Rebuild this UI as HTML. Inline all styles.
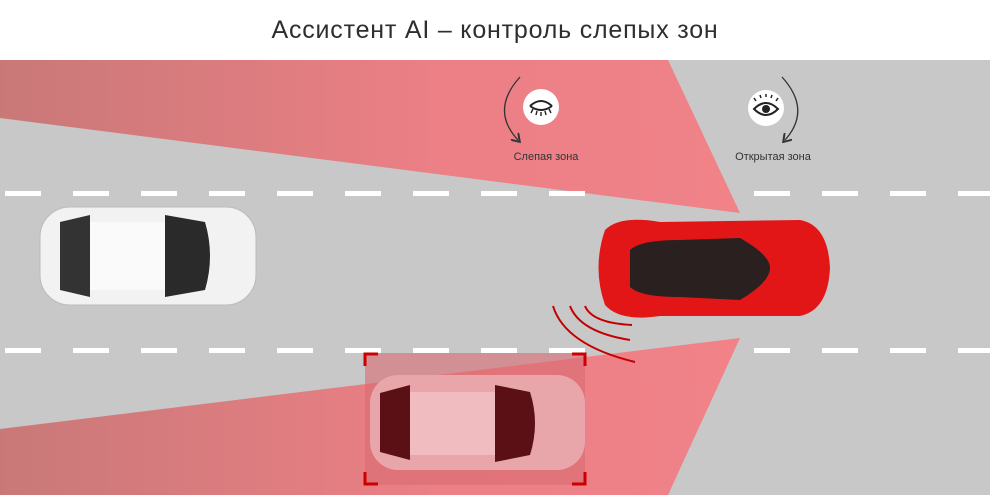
<!DOCTYPE html>
<html><head><meta charset="utf-8"><style>
body{margin:0;width:990px;height:495px;overflow:hidden;background:#fff;font-family:"Liberation Sans",sans-serif}
</style></head><body>
<svg width="990" height="495" viewBox="0 0 990 495" xmlns="http://www.w3.org/2000/svg">
<defs>
<linearGradient id="g" x1="0" x2="1" y1="0" y2="0">
<stop offset="0" stop-color="#c97878"/><stop offset="0.6" stop-color="#ec8086"/><stop offset="1" stop-color="#f08288"/>
</linearGradient>
<marker id="ah" markerWidth="8" markerHeight="8" refX="4" refY="4" orient="auto"><path d="M0,0 L6,4 L0,8" fill="none" stroke="#333" stroke-width="1.5"/></marker>
</defs>
<text x="495" y="38" text-anchor="middle" font-size="25" fill="#2e2e2e" letter-spacing="0.8">Ассистент AI – контроль слепых зон</text>
<rect x="0" y="60" width="990" height="435" fill="#c8c8c8"/>
<polygon points="0,60 668,60 740,213 0,118" fill="url(#g)"/>
<polygon points="0,429 740,338 668,495 0,495" fill="url(#g)"/>
<g fill="#fff">
<rect x="5" y="191" width="36" height="5"/><rect x="73" y="191" width="36" height="5"/><rect x="141" y="191" width="36" height="5"/><rect x="209" y="191" width="36" height="5"/><rect x="277" y="191" width="36" height="5"/><rect x="345" y="191" width="36" height="5"/><rect x="413" y="191" width="36" height="5"/><rect x="481" y="191" width="36" height="5"/><rect x="549" y="191" width="36" height="5"/><rect x="754" y="191" width="36" height="5"/><rect x="822" y="191" width="36" height="5"/><rect x="890" y="191" width="36" height="5"/><rect x="958" y="191" width="36" height="5"/>
<rect x="5" y="348" width="36" height="5"/><rect x="73" y="348" width="36" height="5"/><rect x="141" y="348" width="36" height="5"/><rect x="209" y="348" width="36" height="5"/><rect x="277" y="348" width="36" height="5"/><rect x="345" y="348" width="36" height="5"/><rect x="413" y="348" width="36" height="5"/><rect x="481" y="348" width="36" height="5"/><rect x="549" y="348" width="36" height="5"/><rect x="754" y="348" width="36" height="5"/><rect x="822" y="348" width="36" height="5"/><rect x="890" y="348" width="36" height="5"/><rect x="958" y="348" width="36" height="5"/>
</g>
<rect x="40" y="207" width="216" height="98" rx="30" fill="#f2f2f2" stroke="#bbb"/>
<path d="M60,222 L90,215 L90,297 L60,290 Z" fill="#333"/>
<path d="M165,215 L205,222 Q215,256 205,290 L165,297 Z" fill="#2a2a2a"/>
<rect x="90" y="222" width="75" height="68" fill="#fafafa"/>
<rect x="365" y="353" width="220" height="132" fill="#d86a72" opacity="0.6"/>
<rect x="370" y="375" width="215" height="95" rx="28" fill="#e8a5aa"/>
<path d="M380,393 L410,385 L410,460 L380,452 Z" fill="#5a1015"/>
<path d="M495,385 L530,392 Q540,423 530,455 L495,462 Z" fill="#5a1015"/>
<rect x="410" y="392" width="85" height="63" fill="#f0bcbf"/>
<g stroke="#c00" stroke-width="3" fill="none">
<path d="M365,366 V354 H378"/><path d="M572,354 H585 V366"/><path d="M365,472 V484 H378"/><path d="M572,484 H585 V472"/>
</g>
<path d="M605,230 Q620,215 660,222 L800,220 Q828,225 830,268 Q828,310 800,316 L660,316 Q620,322 605,305 Q592,268 605,230 Z" fill="#e21616"/>
<path d="M630,250 Q640,240 680,240 L740,238 Q770,255 770,268 Q770,282 740,300 L680,297 Q640,297 630,287 Z" fill="#2a2020"/>
<g stroke="#c40000" stroke-width="2" fill="none">
<path d="M553,306 Q565,345 635,362"/><path d="M570,306 Q580,332 630,340"/><path d="M585,306 Q592,323 632,325"/>
</g>
<path d="M520,77 Q490,110 518,140" fill="none" stroke="#333" stroke-width="1.3" marker-end="url(#ah)"/>
<circle cx="541" cy="107" r="18" fill="#fff"/>
<path d="M530,106 Q541,96 552,106" fill="none" stroke="#222" stroke-width="2"/>
<path d="M530,106 Q541,114 552,106" fill="none" stroke="#222" stroke-width="2"/>
<g stroke="#222" stroke-width="1.4"><path d="M533,109 L531,113"/><path d="M537,111 L536,115"/><path d="M541,112 V116"/><path d="M545,111 L546,115"/><path d="M549,109 L551,113"/></g>
<text x="546" y="160" text-anchor="middle" font-size="11" fill="#333">Слепая зона</text>
<path d="M782,77 Q812,110 785,140" fill="none" stroke="#333" stroke-width="1.3" marker-end="url(#ah)"/>
<circle cx="766" cy="108" r="18" fill="#fff"/>
<path d="M754,109 Q766,97 778,109 Q766,121 754,109 Z" fill="none" stroke="#222" stroke-width="2"/>
<circle cx="766" cy="109" r="4" fill="#222"/>
<g stroke="#222" stroke-width="1.5"><path d="M756,101 L754,98"/><path d="M761,98 L760,95"/><path d="M766,97 V94"/><path d="M771,98 L772,95"/><path d="M776,101 L778,98"/></g>
<text x="773" y="160" text-anchor="middle" font-size="11" fill="#333">Открытая зона</text>
</svg>
</body></html>
